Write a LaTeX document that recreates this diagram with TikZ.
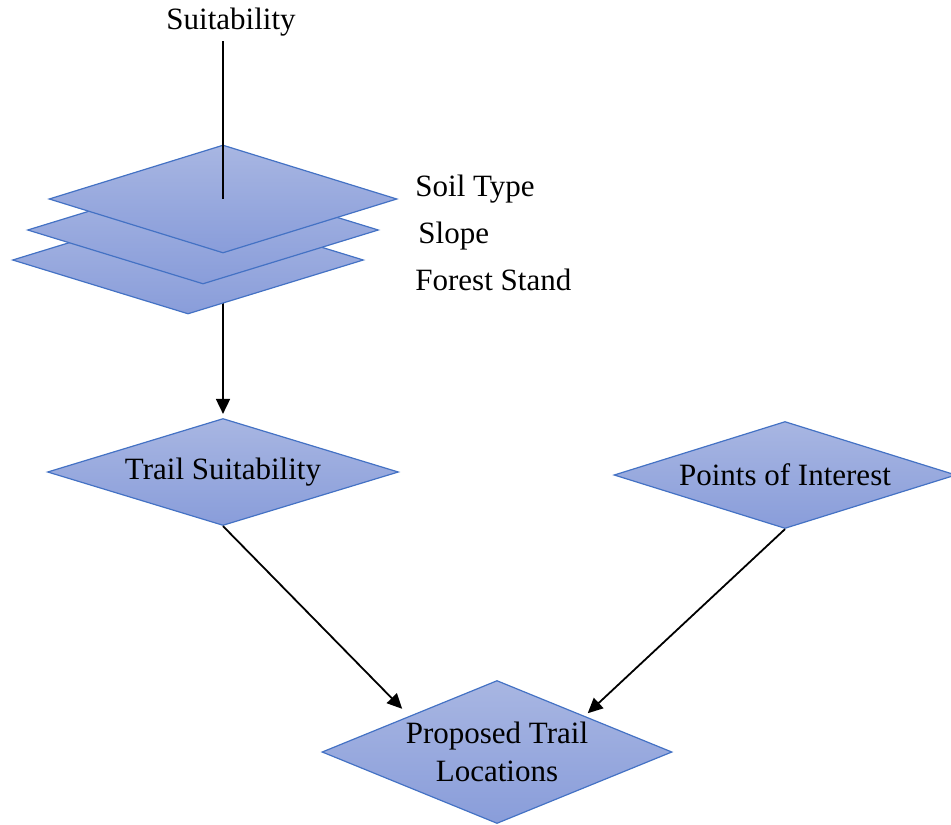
\documentclass[tikz,border=0pt]{standalone}
\usepackage{fontspec}
\setmainfont{Liberation Serif}
\usetikzlibrary{positioning,arrows.meta,shapes.geometric,backgrounds}
\definecolor{diatop}{RGB}{168,182,226}
\definecolor{diabot}{RGB}{137,157,218}
\definecolor{diaedge}{RGB}{68,114,196}
\tikzset{
  dia/.style={diamond, draw=diaedge, line width=0.6pt, top color=diatop, bottom color=diabot,
    inner sep=0pt, font=\fontsize{15.5}{19}\selectfont, align=center},
  lbl/.style={font=\fontsize{15.5}{19}\selectfont, inner sep=0pt},
  flow/.style={-{Triangle[length=7.5pt,width=7pt]}, line width=0.9pt, shorten >=2pt},
}

\begin{document}
\begin{tikzpicture}[x=0.5pt,y=-0.5pt]
\useasboundingbox (0,0) rectangle (951,824);
% input layers
\node (Forest) [dia, minimum width=175.5pt, minimum height=54pt] at (188,260) {};
\node (Slope) [dia, minimum width=175.5pt, minimum height=54pt] at (203,230) {};
\node (Soil) [dia, minimum width=174pt, minimum height=54pt] at (223,199) {};
\node (SoilL) [lbl, anchor=base west] at (415,196) {Soil Type};
\node (SlopeL) [lbl, anchor=base west] at (418,243) {Slope};
\node (ForestL) [lbl, anchor=base west] at (415,290) {Forest Stand};
\node (Suit) [lbl] at (231,22) {Suitability};
% outputs
\node (TrailS) [dia, aspect=3.28, minimum width=175.5pt, minimum height=53.5pt] at (223,472) {Trail Suitability};
\node (POI) [dia, aspect=3.2, minimum width=171pt, minimum height=53.5pt] at (785,475) {Points of Interest};
\node (PTL) [dia, aspect=2.45, minimum width=175pt, minimum height=71.5pt] at (497,752) {Proposed Trail\\Locations};
\begin{scope}[on background layer]
\draw[flow] (Soil.center) to (TrailS.north);
\end{scope}
\draw[line width=0.9pt] (Suit.south -| Soil.center) ++(0,5) to (Soil.center);
\draw[flow, shorten >=5pt] (TrailS.south) to (PTL.north west);
\draw[flow] (POI.south) to (PTL.north east);
\end{tikzpicture}
\end{document}
